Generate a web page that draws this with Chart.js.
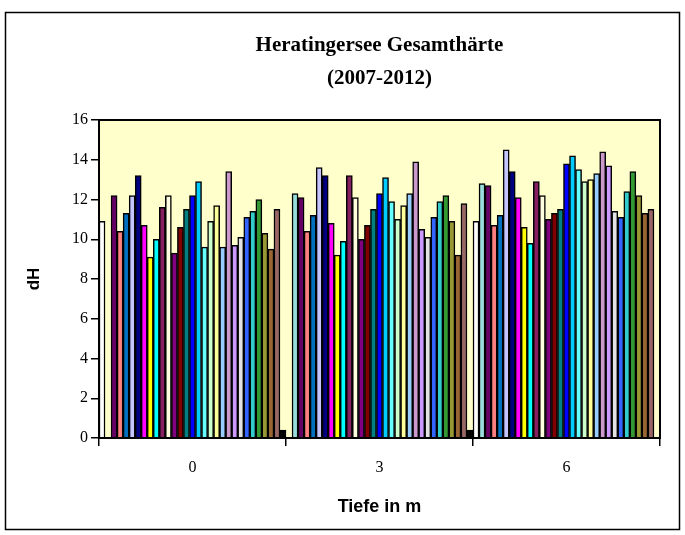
<!DOCTYPE html>
<html>
<head>
<meta charset="utf-8">
<title>Heratingersee Gesamthärte</title>
<script src="https://cdn.jsdelivr.net/npm/chart.js@4/dist/chart.umd.min.js"></script>
<style>
  body { margin: 0; background: #fff; }
  canvas { display: block; }
</style>
</head>
<body>
<canvas id="chart" width="685" height="535"></canvas>
<script>
// depth categories (x axis)
const depths = ['0', '3', '6'];
const yTicks = [0, 2, 4, 6, 8, 10, 12, 14, 16];

// one value per series (null = no bar)
const depth0 = [10.9, null, 12.2, 10.4, 11.3, 12.2, 13.2, 10.7, 9.1, 10.0, 11.6, 12.2, 9.3, 10.6, 11.5,
  12.2, 12.9, 9.6, 10.9, 11.7, 9.6, 13.4, 9.7, 10.1, 11.1, 11.4, 12.0, 10.3, 9.5, 11.5, 0.4];
const depth3 = [null, 12.3, 12.1, 10.4, 11.2, 13.6, 13.2, 10.8, 9.2, 9.9, 13.2, 12.1, 10.0, 10.7, 11.5,
  12.3, 13.1, 11.9, 11.0, 11.7, 12.3, 13.9, 10.5, 10.1, 11.1, 11.9, 12.2, 10.9, 9.2, 11.8, 0.4];
const depth6 = [10.9, 12.8, 12.7, 10.7, 11.2, 14.5, 13.4, 12.1, 10.6, 9.8, 12.9, 12.2, 11.0, 11.3, 11.5,
  13.8, 14.2, 13.5, 12.9, 13.0, 13.3, 14.4, 13.7, 11.4, 11.1, 12.4, 13.4, 12.2, 11.3, 11.5, null];

const seriesColors = ['#FFFFFF', '#99DDDD', '#660066', '#FF8080', '#0070C0', '#C4C4FF', '#000080',
  '#FF00FF', '#FFFF00', '#00FFFF', '#862060', '#FFFFE0', '#800080', '#800000', '#008080',
  '#0000FF', '#00CCFF', '#66FFFF', '#CCFFCC', '#FFFF99', '#99CCFF', '#CC99CC', '#CC99FF',
  '#E3E3E3', '#3366FF', '#33CCCC', '#339933', '#999933', '#996633', '#996666', '#000000'];

const datasets = [];
for (let i = 0; i < seriesColors.length; i++) {
  datasets.push({
    label: 'Serie ' + (i + 1),
    data: [depth0[i], depth3[i], depth6[i]],
    backgroundColor: seriesColors[i],
    borderColor: '#000',
    borderWidth: 1.5,
    categoryPercentage: 1.0,
    barPercentage: 1.0
  });
}

// frame, plot background and two-line title
const decor = {
  id: 'decor',
  beforeDraw(chart) {
    const ctx = chart.ctx;
    const a = chart.chartArea;
    ctx.save();
    ctx.fillStyle = '#fff';
    ctx.fillRect(0, 0, chart.width, chart.height);
    ctx.strokeStyle = '#000';
    ctx.lineWidth = 1.5;
    ctx.strokeRect(5.5, 12.5, 674, 517);
    ctx.fillStyle = '#FFFFCC';
    ctx.fillRect(a.left, a.top, a.right - a.left, a.bottom - a.top);
    ctx.restore();
  },
  afterDraw(chart) {
    const ctx = chart.ctx;
    const a = chart.chartArea;
    ctx.save();
    ctx.strokeStyle = '#000';
    ctx.lineWidth = 2;
    ctx.strokeRect(a.left, a.top, a.right - a.left, a.bottom - a.top);
    const cx = (a.left + a.right) / 2;
    ctx.fillStyle = '#000';
    ctx.font = 'bold 21px "Liberation Serif"';
    ctx.textAlign = 'center';
    ctx.textBaseline = 'middle';
    ctx.fillText('Heratingersee Gesamthärte', cx, 46);
    ctx.fillText('(2007-2012)', cx, 79);
    ctx.restore();
  }
};

new Chart(document.getElementById('chart'), {
  type: 'bar',
  data: { labels: depths, datasets: datasets },
  options: {
    responsive: false,
    animation: false,
    devicePixelRatio: 1,
    layout: { padding: { left: 20, right: 25, top: 120, bottom: 13 } },
    plugins: {
      legend: { display: false },
      tooltip: { enabled: false },
      title: { display: false }
    },
    scales: {
      x: {
        afterFit(scale) { scale.height = 84; },
        grid: { offset: true, drawOnChartArea: false, color: '#000', lineWidth: 1.5, tickLength: 8 },
        border: { display: true, color: '#000', width: 2 },
        ticks: { color: '#000', padding: 12, font: { family: 'Liberation Serif', size: 16 } },
        title: {
          display: true,
          text: 'Tiefe in m',
          color: '#000',
          font: { family: 'Liberation Sans', size: 18, weight: 'bold' }
        }
      },
      y: {
        min: 0,
        max: 16,
        afterFit(scale) { scale.width = 79; },
        afterBuildTicks(scale) { scale.ticks = yTicks.map(v => ({ value: v })); },
        grid: { drawOnChartArea: false, color: '#000', lineWidth: 1.5, tickLength: 8 },
        border: { display: true, color: '#000', width: 2 },
        ticks: { color: '#000', padding: 3, font: { family: 'Liberation Serif', size: 16 } },
        title: {
          display: true,
          text: 'dH',
          color: '#000',
          font: { family: 'Liberation Sans', size: 17, weight: 'bold' }
        }
      }
    }
  },
  plugins: [decor]
});
</script>
</body>
</html>
